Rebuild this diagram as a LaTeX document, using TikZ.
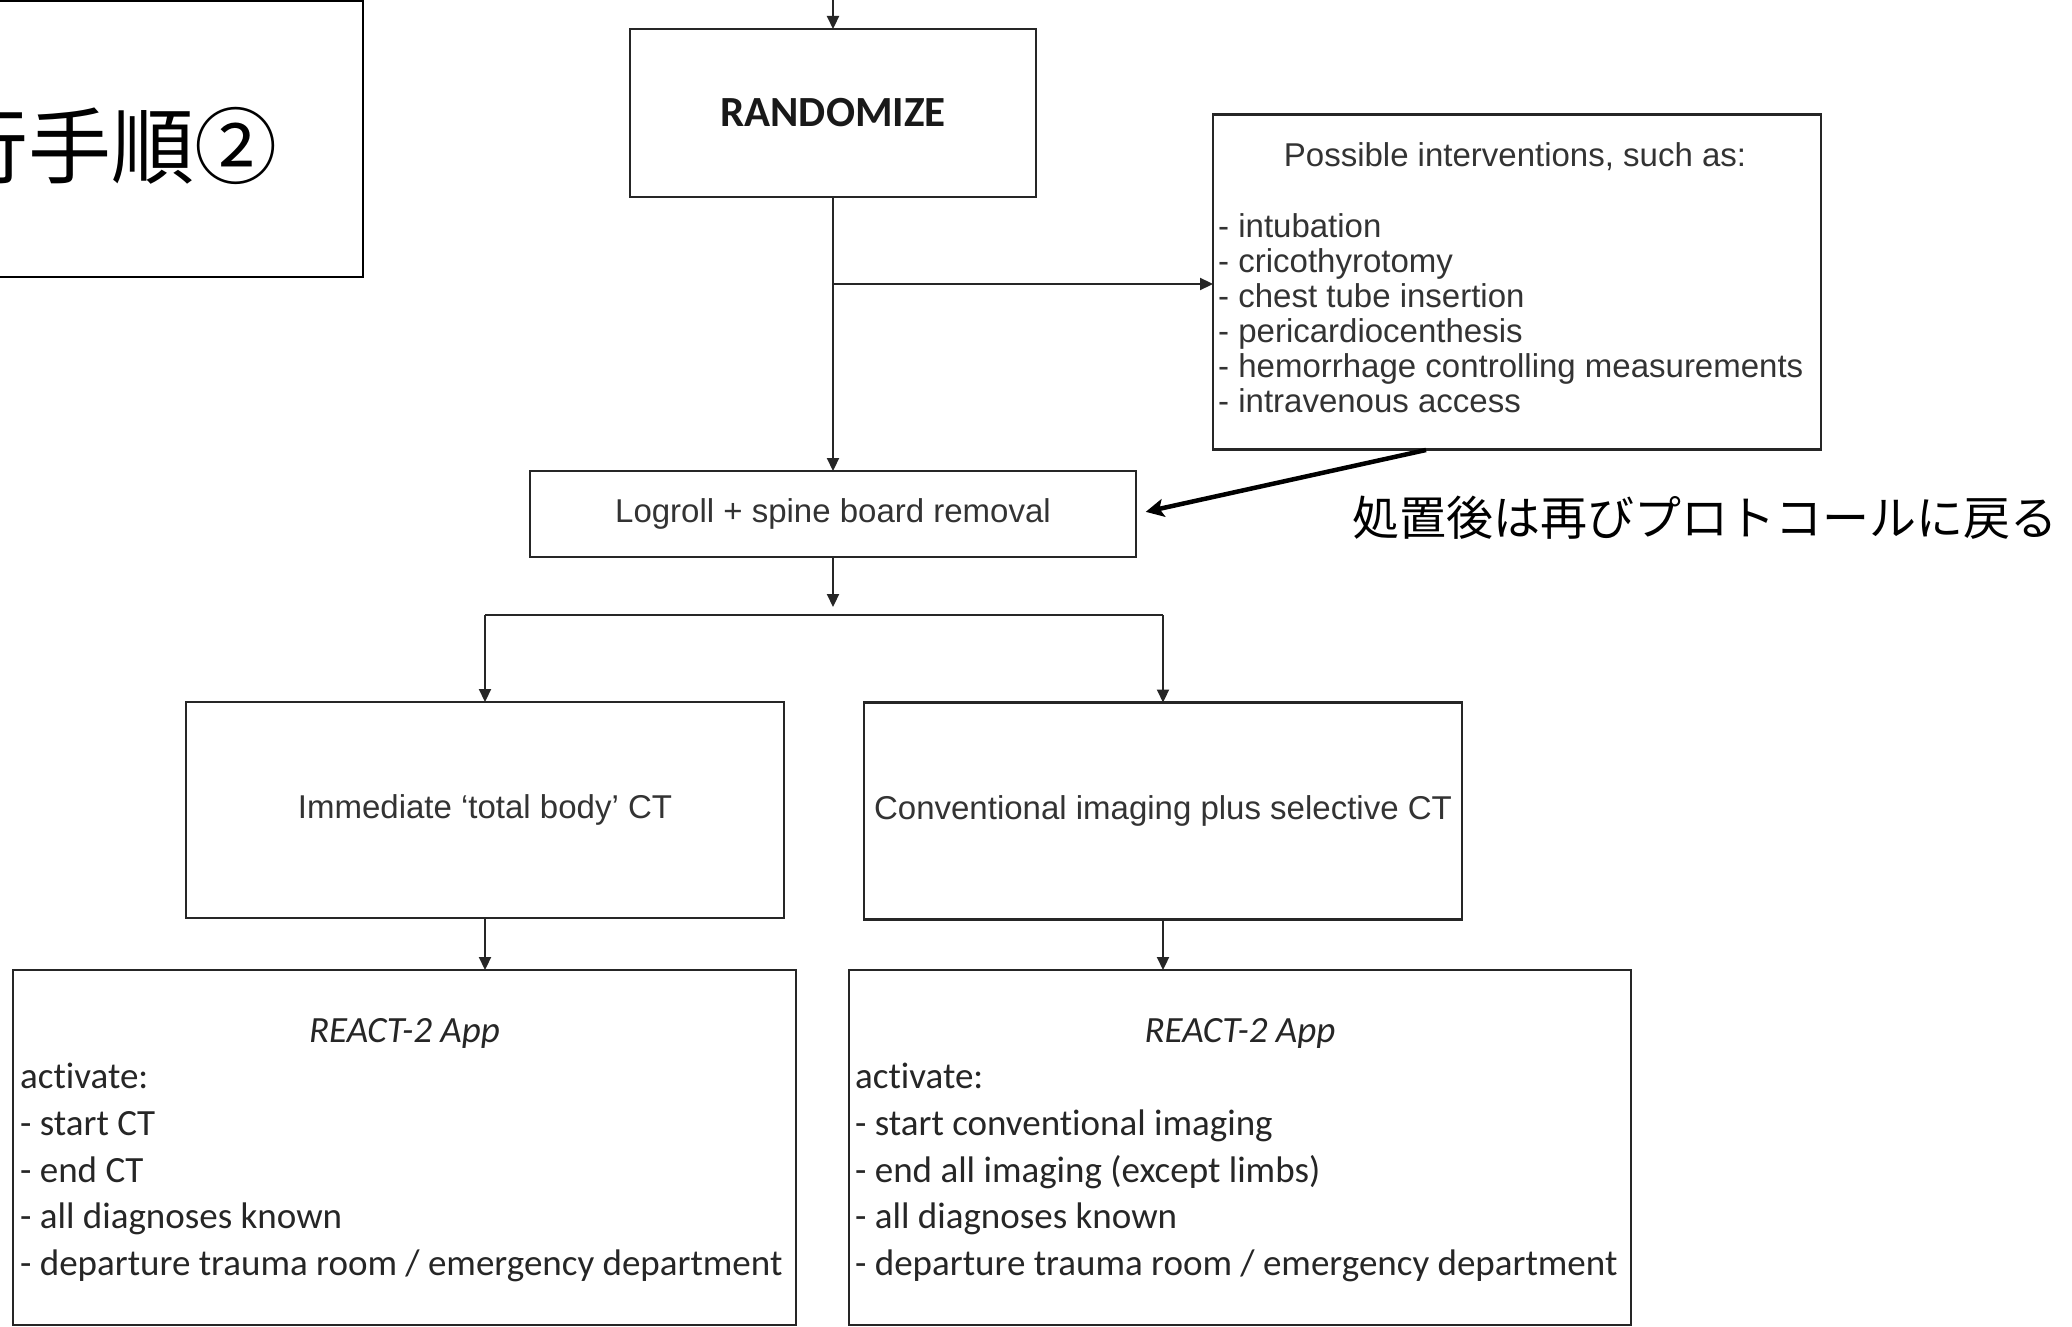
\documentclass[tikz,border=0pt]{standalone}
\usepackage{fontspec}
\setmainfont{Liberation Sans}
\newfontfamily\calfont[Ligatures={NoCommon}]{Carlito}
\newfontfamily\jpfont{Noto Sans CJK JP}
\usetikzlibrary{arrows.meta}
\tikzset{
  box/.style={draw=black!85, line width=2.8pt, rectangle, inner sep=0pt, outer sep=0pt},
  artext/.style={font={\fontsize{33}{40}\selectfont}, text=black!80},
  caltext/.style={font={\calfont\fontsize{37}{44}\selectfont}, text=black!85, inner sep=0pt},
  arr/.style={draw=black!85, line width=2.2pt, -{Triangle[length=13pt,width=12pt]}},
  plainline/.style={draw=black!85, line width=2.2pt},
  thickarr/.style={draw=black, line width=4.5pt, -{Stealth[length=18pt,width=18pt,inset=4pt]}},
}
\begin{document}
\begin{tikzpicture}[x=1pt,y=-1pt]
\useasboundingbox (0,0) rectangle (2072,1327);
\clip (0,0) rectangle (2072,1327);
\fill[white] (0,0) rectangle (2072,1327);

% title box
\node[box, draw=black, line width=2pt, minimum width=373pt, minimum height=275.5pt] (title) at (176.5,139) {};
\node[anchor=west, inner sep=0pt, font={\jpfont\fontsize{83}{90}\selectfont}] (titletxt) at (-55,146) {行手順②};

% randomize
\node[box, minimum width=406pt, minimum height=168pt, text=black!90, font={\calfont\bfseries\fontsize{43}{50}\selectfont}] (rand) at (833,113) {RANDOMIZE};

% interventions
\node[box, minimum width=608pt, minimum height=335pt] (interv) at (1517,282) {};
\node[artext, anchor=base, inner sep=0pt] (ivhead) at (1515,167) {Possible interventions, such as:};
\node[artext, anchor=base west, inner sep=0pt] (iv1) at (1218,237) {- intubation};
\node[artext, anchor=base west, inner sep=0pt] (iv2) at (1218,272) {- cricothyrotomy};
\node[artext, anchor=base west, inner sep=0pt] (iv3) at (1218,307) {- chest tube insertion};
\node[artext, anchor=base west, inner sep=0pt] (iv4) at (1218,342) {- pericardiocenthesis};
\node[artext, anchor=base west, inner sep=0pt] (iv5) at (1218,377) {- hemorrhage controlling measurements};
\node[artext, anchor=base west, inner sep=0pt] (iv6) at (1218,412) {- intravenous access};

% logroll
\node[box, artext, minimum width=606pt, minimum height=86pt] (logroll) at (833,514) {Logroll + spine board removal};

% middle boxes
\node[box, artext, minimum width=598pt, minimum height=216pt] (midL) at (485,810) {Immediate ‘total body’ CT};
\node[box, artext, minimum width=598pt, minimum height=217pt] (midR) at (1163,811) {Conventional imaging plus selective CT};

% bottom boxes
\node[box, minimum width=783pt, minimum height=355pt] (botL) at (404.5,1147.5) {};
\node[box, minimum width=782pt, minimum height=355pt] (botR) at (1240,1147.5) {};

\node[caltext, anchor=base, font={\calfont\itshape\fontsize{37}{44}\selectfont}] (appL) at (404.5,1042) {REACT-2 App};
\node[caltext, anchor=base west] (aL0) at (20,1088) {activate:};
\node[caltext, anchor=base west] (aL1) at (20,1135) {- start CT};
\node[caltext, anchor=base west] (aL2) at (20,1182) {- end CT};
\node[caltext, anchor=base west] (aL3) at (20,1228) {- all diagnoses known};
\node[caltext, anchor=base west] (aL4) at (20,1275) {- departure trauma room / emergency department};

\node[caltext, anchor=base, font={\calfont\itshape\fontsize{37}{44}\selectfont}] (appR) at (1240,1042) {REACT-2 App};
\node[caltext, anchor=base west] (aR0) at (855,1088) {activate:};
\node[caltext, anchor=base west] (aR1) at (855,1135) {- start conventional imaging};
\node[caltext, anchor=base west] (aR2) at (855,1182) {- end all imaging (except limbs)};
\node[caltext, anchor=base west] (aR3) at (855,1228) {- all diagnoses known};
\node[caltext, anchor=base west] (aR4) at (855,1275) {- departure trauma room / emergency department};

% note
\node[anchor=west, inner sep=0pt, font={\jpfont\fontsize{47}{50}\selectfont}] (note) at (1352,518) {処置後は再びプロトコールに戻る};

% connectors
\coordinate (topin) at (833,0);
\draw[arr] (topin) -- (rand.north);
\draw[arr] (rand.south) -- (logroll.north);
\coordinate (br) at (833,284);
\draw[arr] (br) -- (br -| interv.west);
\coordinate (rs) at (1426,450);
\draw[thickarr, shorten >=10pt] (rs) -- (logroll.east);
\coordinate (bartip) at (833,607);
\draw[arr] (logroll.south) -- (bartip);
\coordinate (bar) at (833,615);
\draw[plainline] (bar -| midL.north) -- (bar -| midR.north);
\draw[arr] (bar -| midL.north) -- (midL.north);
\draw[arr] (bar -| midR.north) -- (midR.north);
\draw[arr] (midL.south) -- (midL.south |- botL.north);
\draw[arr] (midR.south) -- (midR.south |- botR.north);
\end{tikzpicture}
\end{document}
